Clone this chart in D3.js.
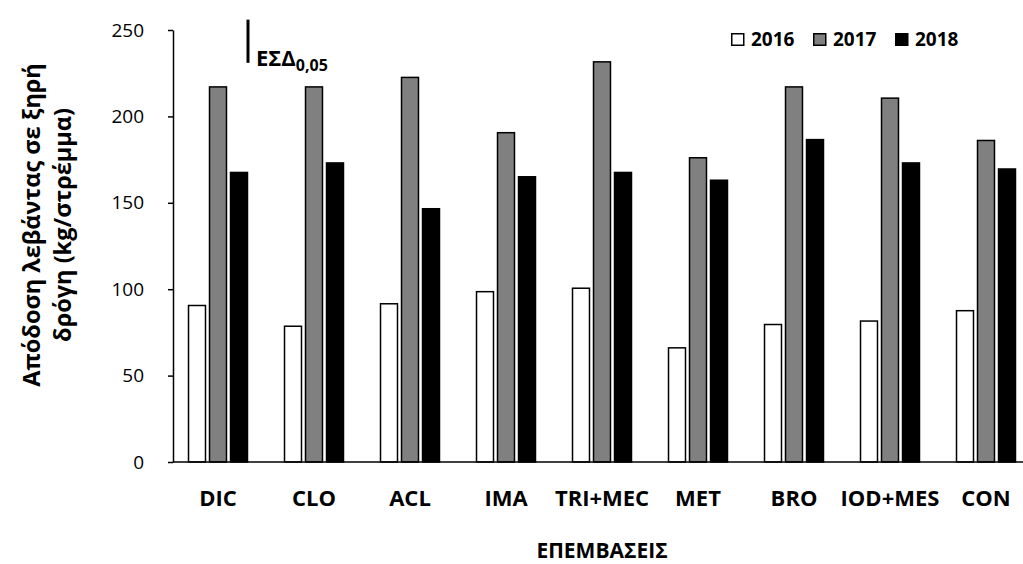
<!DOCTYPE html>
<html lang="el">
<head>
<meta charset="UTF-8">
<title>Απόδοση λεβάντας</title>
<script src="https://d3js.org/d3.v7.min.js"></script>
<style>
    body { margin: 0; background: #fff; }
    svg { display: block; }
    svg text { font-family: "Open Sans", "Noto Sans", sans-serif; fill: #000; }
    .lbl { font-weight: bold; }
</style>
</head>
<body>
<div id="chart"></div>
<script>
    // Data
    const treatments = ["DIC", "CLO", "ACL", "IMA", "TRI+MEC", "MET", "BRO", "IOD+MES", "CON"];
    const years = ["2016", "2017", "2018"];
    const y2016 = [91, 79, 92, 99, 101, 66.5, 80, 82, 88];
    const y2017 = [217.5, 217.5, 223, 191, 232, 176.5, 217.5, 211, 186.5];
    const y2018 = [168, 173.5, 147, 165.5, 168, 163.5, 187, 173.5, 170];
    const yTicks = [0, 50, 100, 150, 200, 250];
    const lsdTop = 256;   // top of the LSD bar
    const lsdValue = 25;  // ΕΣΔ 0,05

    const fills = { "2016": "#ffffff", "2017": "#808080", "2018": "#000000" };
    const seriesValues = { "2016": y2016, "2017": y2017, "2018": y2018 };

    const width = 1023, height = 564;
    const svg = d3.select("#chart").append("svg")
        .attr("width", width)
        .attr("height", height);

    const axisX = 173;
    const x0 = d3.scaleBand()
        .domain(treatments)
        .range([170, 1034])
        .paddingInner(0.37)
        .paddingOuter(0.185);

    const x1 = d3.scaleBand()
        .domain(years)
        .range([0, x0.bandwidth()])
        .paddingInner(0.12);

    const y = d3.scaleLinear()
        .domain([0, 250])
        .range([462, 30]);

    // Bars
    const groups = svg.append("g")
        .selectAll("g")
        .data(treatments)
        .enter().append("g")
        .attr("transform", d => `translate(${x0(d)},0)`);

    groups.selectAll("rect")
        .data((d, i) => years.map(yr => ({ year: yr, value: seriesValues[yr][i] })))
        .enter().append("rect")
        .attr("x", d => x1(d.year) + 0.75)
        .attr("y", d => y(d.value) + 0.75)
        .attr("width", x1.bandwidth() - 1.5)
        .attr("height", d => y(0) - y(d.value) - 0.75)
        .attr("fill", d => fills[d.year])
        .attr("stroke", "#000")
        .attr("stroke-width", 1.5);

    // Y axis
    const yAxis = svg.append("g")
        .attr("transform", `translate(${axisX},0)`)
        .call(d3.axisLeft(y).tickValues(yTicks).tickSize(5).tickPadding(24).tickSizeOuter(0));
    yAxis.select(".domain").attr("stroke", "#000").attr("stroke-width", 1.5);
    yAxis.selectAll(".tick line").attr("stroke", "#000").attr("stroke-width", 1.5);
    yAxis.selectAll(".tick text").style("font-size", "19px");

    // X axis
    const xAxis = svg.append("g")
        .attr("transform", `translate(0,${y(0)})`)
        .call(d3.axisBottom(x0).tickSize(0).tickPadding(28));
    xAxis.select(".domain").remove();
    xAxis.selectAll(".tick text")
        .attr("dy", "0.71em")
        .style("font-size", "22px")
        .style("font-weight", "bold");
    svg.append("line")
        .attr("x1", axisX).attr("x2", width)
        .attr("y1", y(0)).attr("y2", y(0))
        .attr("stroke", "#000").attr("stroke-width", 1.5);

    // Axis titles
    svg.append("text")
        .attr("class", "lbl")
        .attr("x", (170 + 1034) / 2)
        .attr("y", 558)
        .attr("text-anchor", "middle")
        .style("font-size", "21px")
        .text("ΕΠΕΜΒΑΣΕΙΣ");

    const yTitle = svg.append("g")
        .attr("transform", "translate(0,225) rotate(-90)");
    yTitle.append("text")
        .attr("class", "lbl")
        .attr("x", 0).attr("y", 40)
        .attr("text-anchor", "middle")
        .style("font-size", "23.5px")
        .text("Απόδοση λεβάντας σε ξηρή");
    yTitle.append("text")
        .attr("class", "lbl")
        .attr("x", 0).attr("y", 71)
        .attr("text-anchor", "middle")
        .style("font-size", "23.5px")
        .text("δρόγη (kg/στρέμμα)");

    // LSD marker
    svg.append("line")
        .attr("x1", 248).attr("x2", 248)
        .attr("y1", y(lsdTop)).attr("y2", y(lsdTop - lsdValue))
        .attr("stroke", "#000").attr("stroke-width", 3);
    const lsdText = svg.append("text")
        .attr("class", "lbl")
        .attr("x", 256).attr("y", 66)
        .style("font-size", "22px");
    lsdText.append("tspan").text("ΕΣΔ");
    lsdText.append("tspan").style("font-size", "16px").attr("dy", 5).text("0,05");

    // Legend
    const legend = svg.append("g")
        .selectAll("g")
        .data(years)
        .enter().append("g")
        .attr("transform", (d, i) => `translate(${731 + i * 82},33)`);
    legend.append("rect")
        .attr("x", 0.75).attr("y", 0.75)
        .attr("width", 12).attr("height", 11.5)
        .attr("fill", d => fills[d])
        .attr("stroke", "#000").attr("stroke-width", 1.5);
    legend.append("text")
        .attr("class", "lbl")
        .attr("x", 20).attr("y", 12.5)
        .style("font-size", "19px")
        .text(d => d);
</script>
</body>
</html>
